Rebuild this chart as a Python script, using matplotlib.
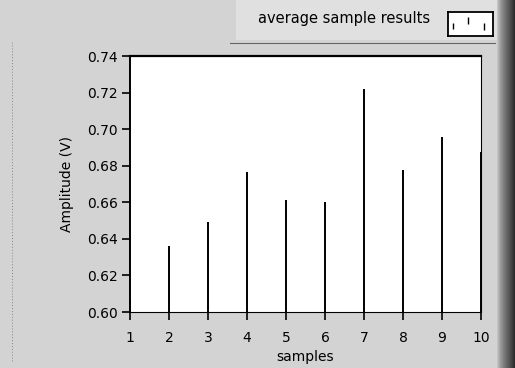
import matplotlib
matplotlib.use("Agg")
import matplotlib.pyplot as plt
import numpy as np
from matplotlib.patches import Rectangle

# averaged amplitude for each sample run
samples = [1, 2, 3, 4, 5, 6, 7, 8, 9, 10]
amplitude = [0.6066, 0.6362, 0.6492, 0.6764, 0.6615, 0.6604, 0.7217, 0.6774, 0.6959, 0.6874]
y_ticks = [0.60, 0.62, 0.64, 0.66, 0.68, 0.70, 0.72, 0.74]

W, H = 515, 368
PANEL = "#d3d3d3"
FONT = "DejaVu Sans"

fig = plt.figure(figsize=(W / 100, H / 100), dpi=100, facecolor=PANEL)

# legend strip at the top
fig.add_artist(Rectangle((236 / W, 1 - 40 / H), 262 / W, 40 / H, transform=fig.transFigure,
                         facecolor="#e0e0e0", edgecolor="none", zorder=-5))
fig.add_artist(plt.Line2D([230 / W, 495 / W], [1 - 43 / H, 1 - 43 / H], transform=fig.transFigure,
                          color="#666666", lw=0.8, zorder=-4))

# dark shading down the right edge of the front panel
shade = fig.add_axes([497 / W, 0, 18 / W, 1])
grad = np.linspace(0, 1, 64)[None, :] ** 0.7
shade.imshow(grad, aspect="auto", cmap="Greys", vmin=-0.55, vmax=1.25,
             extent=[0, 1, 0, 1])
shade.axis("off")

# faint dotted guide on the left edge
fig.add_artist(plt.Line2D([12 / W, 12 / W], [0.02, 1 - 42 / H], transform=fig.transFigure,
                          color="#888888", lw=0.7, ls=(0, (1, 2))))

fig.text(344 / W, 1 - 19 / H, "average sample results", ha="center", va="center",
         fontsize=10.5, family=FONT, color="black")
icon = fig.add_axes([448 / W, 1 - 36 / H, 45 / W, 24 / H])
icon.set_facecolor("white")
icon.set_xlim(0, 45)
icon.set_ylim(0, 24)
icon.vlines([5, 20, 36], [7, 12, 6], [13, 19, 13], color="black", lw=1)
icon.set_xticks([])
icon.set_yticks([])
for s in icon.spines.values():
    s.set_linewidth(1.3)

ax = fig.add_axes([130 / W, 1 - 312 / H, 351 / W, 256 / H])
ax.set_facecolor("white")
ax.vlines(samples, 0.60, amplitude, color="black", lw=1.4, clip_on=False, zorder=3)

ax.set_xlim(1, 10)
ax.set_ylim(0.60, 0.74)
ax.set_xticks(samples)
ax.set_yticks(y_ticks)
ax.set_yticklabels([f"{v:.2f}" for v in y_ticks])
ax.tick_params(direction="out", length=6, width=1.2, labelsize=10, color="black")
ax.tick_params(axis="x", pad=8)
ax.tick_params(axis="y", pad=3)
for lab in ax.get_xticklabels() + ax.get_yticklabels():
    lab.set_family(FONT)

ax.spines["top"].set_linewidth(1.6)
ax.spines["left"].set_linewidth(1.4)
ax.spines["right"].set_linewidth(0.8)
ax.spines["right"].set_linestyle((0, (3, 1)))
ax.spines["bottom"].set_linewidth(0.8)
ax.spines["bottom"].set_linestyle((0, (1, 1)))

ax.set_xlabel("samples", fontsize=10, family=FONT, labelpad=3)
ax.set_ylabel("Amplitude (V)", fontsize=10, family=FONT, labelpad=9)

fig.savefig("out.png", dpi=100, facecolor=PANEL)
